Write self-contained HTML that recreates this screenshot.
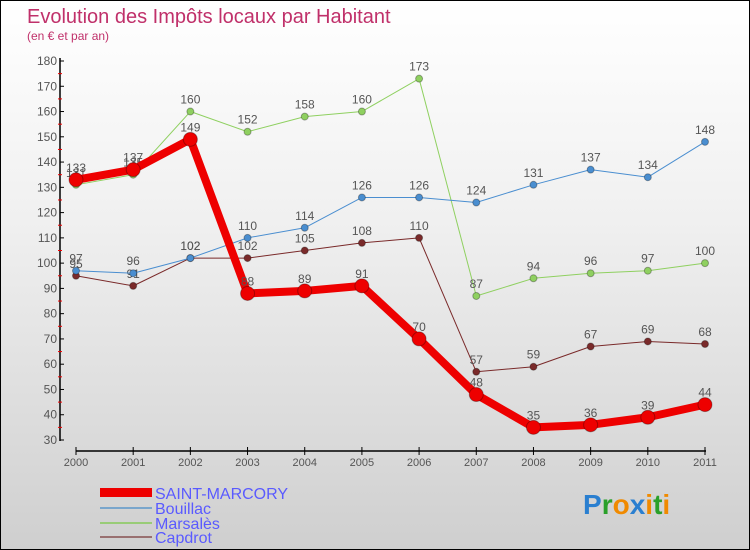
<!DOCTYPE html>
<html><head><meta charset="utf-8"><style>
body{margin:0}
#c{width:750px;height:550px;position:relative;overflow:hidden;box-sizing:border-box;border:1px solid #000;background:linear-gradient(#fff 0%,#f0f0f0 40%,#cfcfcf 100%);font-family:"Liberation Sans",sans-serif}
</style></head><body>
<div id="c">
<svg width="750" height="550" style="position:absolute;left:-1px;top:-1px">
<text x="27" y="23" font-size="20" fill="#c0306a">Evolution des Impôts locaux par Habitant</text>
<text x="27" y="40" font-size="12" fill="#c0306a">(en € et par an)</text>
<g id="axes"></g><g id="series"></g>
<g>
<rect x="100" y="488" width="52" height="9" fill="#e00"/>
<text x="155" y="499" font-size="16" fill="#5a5aff">SAINT-MARCORY</text>
<line x1="100" y1="508" x2="152" y2="508" stroke="#7aa6cc" stroke-width="2"/>
<text x="155" y="514" font-size="16" fill="#5a5aff">Bouillac</text>
<line x1="100" y1="523" x2="152" y2="523" stroke="#99cc77" stroke-width="2"/>
<text x="155" y="529" font-size="16" fill="#5a5aff">Marsalès</text>
<line x1="100" y1="537" x2="152" y2="537" stroke="#997070" stroke-width="2"/>
<text x="155" y="543" font-size="16" fill="#5a5aff">Capdrot</text>
</g>
<text x="583" y="514" font-size="28" font-weight="bold"><tspan fill="#2a7fd0">P</tspan><tspan fill="#2aa02a">r</tspan><tspan fill="#f08a00">o</tspan><tspan fill="#2a7fd0">x</tspan><tspan fill="#f08a00">i</tspan><tspan fill="#2aa02a">t</tspan><tspan fill="#f08a00">i</tspan></text>
</svg>
</div>
<script>
const years=[2000,2001,2002,2003,2004,2005,2006,2007,2008,2009,2010,2011];
const saintMarcory=[133,137,149,88,89,91,70,48,35,36,39,44];
const bouillac=[97,96,102,110,114,126,126,124,131,137,134,148];
const marsales=[131,135,160,152,158,160,173,87,94,96,97,100];
const capdrot=[95,91,102,102,105,108,110,57,59,67,69,68];
const yTicks=[30,40,50,60,70,80,90,100,110,120,130,140,150,160,170,180];
const NS="http://www.w3.org/2000/svg";
const xs=i=>76+i*(705-76)/(years.length-1);
const ys=v=>440-(v-30)*(440-61)/150;
function mk(t,a,p){const e=document.createElementNS(NS,t);for(const k in a)e.setAttribute(k,a[k]);p.appendChild(e);return e;}
const ax=document.getElementById('axes');
let yl=mk('line',{x1:60,y1:58,x2:60,y2:441,stroke:'#000','stroke-width':1.5},ax);


yTicks.forEach(v=>{
 const t=mk('text',{x:57,y:ys(v)+4,'font-size':12,fill:'#555','text-anchor':'end'},ax);t.textContent=v;
 
 
 mk('line',{x1:60,y1:ys(v),x2:64,y2:ys(v),stroke:'#000'},ax);
 if(v<180)mk('line',{x1:58,y1:ys(v+5),x2:62,y2:ys(v+5),stroke:'#e00'},ax);
});
let xl=mk('line',{x1:76,y1:451,x2:706,y2:451,stroke:'#000','stroke-width':1.5},ax);


years.forEach((y,i)=>{
 mk('line',{x1:xs(i),y1:447,x2:xs(i),y2:455,stroke:'#000'},ax);
 const t=mk('text',{x:xs(i),y:466,'font-size':11,fill:'#555','text-anchor':'middle'},ax);t.textContent=y;
 
 
});
const sg=document.getElementById('series');
function draw(vals,color,w,r,name){
 const g=mk('g',{},sg);
 
 
 mk('polyline',{points:vals.map((v,i)=>xs(i)+','+ys(v)).join(' '),fill:'none',stroke:color,'stroke-width':w,'stroke-linejoin':'round'},g);
 vals.forEach((v,i)=>{
  const c=mk('circle',{cx:xs(i),cy:ys(v),r:r,fill:color,stroke:'rgba(0,0,0,0.3)'},g);
  
  
  const t=mk('text',{x:xs(i),y:ys(v)-8,'font-size':12,fill:'#555','text-anchor':'middle'},g);t.textContent=v;
  
  
 });
}
draw(capdrot,'#7a2a2a',1,3.5,'capdrot');
draw(marsales,'#8fd060',1,3.5,'marsales');
draw(bouillac,'#4a8ed0',1,3.5,'bouillac');
draw(saintMarcory,'#ee0000',8,7,'saint-marcory');
</script>
</body></html>
